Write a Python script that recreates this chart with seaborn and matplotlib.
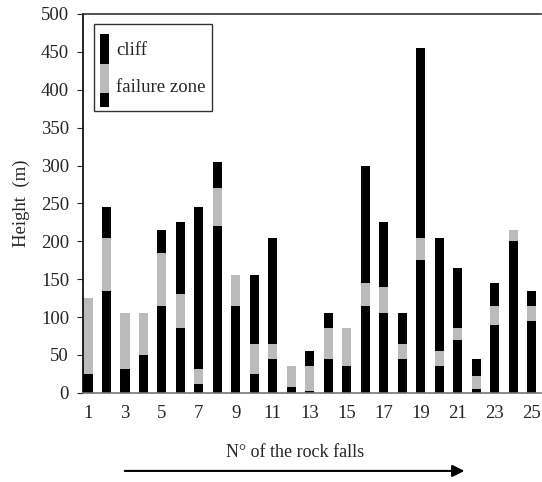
import matplotlib
matplotlib.use('Agg')
import matplotlib.pyplot as plt
import numpy as np
import pandas as pd
import seaborn as sns
from matplotlib.legend_handler import HandlerBase
from matplotlib.patches import Patch, Rectangle

# rock fall number
falls = [str(i) for i in range(1, 26)]
# cliff part below the failure zone (m)
cliff_below = [25, 135, 32, 50, 115, 85, 12, 220, 115, 25, 45, 8, 3,
               45, 35, 115, 105, 45, 175, 35, 70, 5, 90, 200, 95]
# failure zone height (m)
failure = [100, 70, 73, 55, 70, 45, 20, 50, 40, 40, 20, 27, 32,
           40, 50, 30, 35, 20, 30, 20, 15, 17, 25, 15, 20]
# cliff part above the failure zone (m)
cliff_above = [0, 40, 0, 0, 30, 95, 213, 35, 0, 90, 140, 0, 20,
               20, 0, 155, 85, 40, 250, 150, 80, 23, 30, 0, 20]

df = pd.DataFrame({'fall': falls,
                   'below': cliff_below,
                   'failure': failure,
                   'above': cliff_above})
df['to_failure'] = df['below'] + df['failure']
df['total'] = df['to_failure'] + df['above']

sns.set_style('white')
plt.rcParams['font.family'] = ['Liberation Serif', 'DejaVu Serif']

black = '#000000'
grey = '#bbbbbb'
FS = 13.5


class SegmentHandler(HandlerBase):
    """Legend key drawn as a column of coloured pieces, top to bottom."""

    def __init__(self, segments):
        super().__init__()
        self.segments = segments

    def create_artists(self, legend, orig_handle, xdescent, ydescent,
                       width, height, fontsize, trans):
        artists = []
        top = height - ydescent
        for frac, color in self.segments:
            h = frac * height
            if color is not None:
                artists.append(Rectangle((-xdescent, top - h), width, h,
                                         facecolor=color, edgecolor='none',
                                         transform=trans))
            top -= h
        return artists


fig = plt.figure(figsize=(5.42, 4.82), dpi=100)
ax = fig.add_axes([0.153, 0.185, 0.845, 0.786])

# stacked bars drawn as overlapping cumulative bars
sns.barplot(data=df, x='fall', y='total', color=black, width=0.5,
            saturation=1, ax=ax, order=falls)
sns.barplot(data=df, x='fall', y='to_failure', color=grey, width=0.5,
            saturation=1, ax=ax, order=falls)
sns.barplot(data=df, x='fall', y='below', color=black, width=0.5,
            saturation=1, ax=ax, order=falls)
for p in ax.patches:
    p.set_linewidth(0)

ax.set_xlim(-0.27, 24.5)
ax.set_ylim(0, 500)
ax.set_yticks(np.arange(0, 501, 50))
ax.set_xticks(range(0, 25, 2))
ax.set_xticklabels(falls[::2])
ax.tick_params(axis='x', length=0, labelsize=FS, pad=9)
ax.tick_params(axis='y', length=4, direction='out', left=True,
               labelsize=FS, pad=6)
ax.set_xlabel('')
ax.set_ylabel('Height  (m)', fontsize=FS, labelpad=8)

ax.spines['right'].set_visible(False)
ax.spines['left'].set_color('#000000')
ax.spines['top'].set_color('#333333')
ax.spines['bottom'].set_color('#777777')
for s in ['left', 'top', 'bottom']:
    ax.spines[s].set_linewidth(1.2)

h_cliff = Patch(facecolor=black)
h_fail = Patch(facecolor=grey)
leg = ax.legend([h_cliff, h_fail], ['cliff', 'failure zone'], loc='upper left',
                bbox_to_anchor=(0.024, 0.974), fontsize=FS, frameon=True,
                fancybox=False, edgecolor='black', handlelength=0.45,
                handleheight=2.66, labelspacing=0, handletextpad=0.4,
                borderpad=0.35, borderaxespad=0,
                handler_map={
                    h_cliff: SegmentHandler([(0.1, None), (0.81, black),
                                             (0.09, grey)]),
                    h_fail: SegmentHandler([(0.7, grey), (0.38, black)]),
                })
leg.get_frame().set_linewidth(1.0)

fig.text(0.545, 0.062, 'N\u00b0 of the rock falls', ha='center',
         va='center', fontsize=13)
ax.annotate('', xy=(0.862, 0.023), xytext=(0.225, 0.023),
            xycoords='figure fraction', textcoords='figure fraction',
            arrowprops=dict(arrowstyle='-|>', color='black', lw=1.5,
                            mutation_scale=18))

fig.savefig('out.png', dpi=100, facecolor='white')
